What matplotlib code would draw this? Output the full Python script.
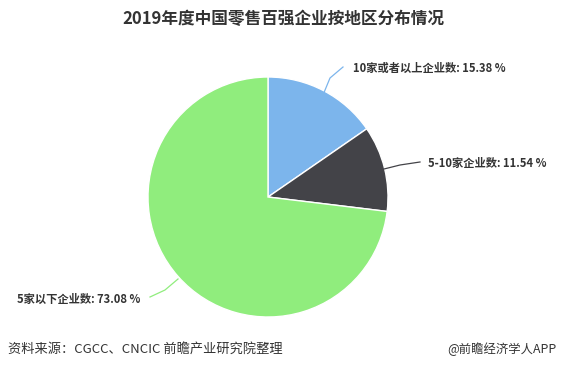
import matplotlib
matplotlib.use("Agg")
import matplotlib.pyplot as plt

plt.rcParams['font.family'] = ['Noto Sans CJK SC', 'DejaVu Sans']

# data
labels = ["10家或者以上企业数", "5-10家企业数", "5家以下企业数"]
values = [15.38, 11.54, 73.08]
colors = ["#7cb5ec", "#434348", "#90ed7d"]

W, H = 565, 369
fig = plt.figure(figsize=(W / 100, H / 100), dpi=100)
ax = fig.add_axes([0, 0, 1, 1])

cx, cy, r = 268, H - 197, 120
ax.pie(values, colors=colors, startangle=90, counterclock=False,
       center=(cx, cy), radius=r, frame=True,
       wedgeprops=dict(edgecolor='white', linewidth=1))
ax.set_xlim(0, W)
ax.set_ylim(0, H)
ax.set_aspect('equal')
ax.axis('off')

# label connectors and texts (pixel coords, y flipped)
conn = [
    [(323, 95), (330, 78), (343, 67)],
    [(384, 169), (400, 165), (420, 162)],
    [(178, 279), (165, 290), (150, 297)],
]
text_pos = [(353, 68, 'left'), (428, 163, 'left'), (140, 299, 'right')]
for i in range(3):
    xs = [p[0] for p in conn[i]]
    ys = [H - p[1] for p in conn[i]]
    ax.plot(xs, ys, color=colors[i], lw=0.9)
    tx, ty, ha = text_pos[i]
    ax.text(tx, H - ty, f"{labels[i]}: {values[i]:.2f} %", ha=ha, va='center',
            fontsize=8.1, fontweight='bold', color='#333333')

fig.text(283 / W, 1 - 19 / H, "2019年度中国零售百强企业按地区分布情况",
         ha='center', va='center', fontsize=12, fontweight='bold', color='#333333')
fig.text(8 / W, 1 - 349 / H, "资料来源：CGCC、CNCIC 前瞻产业研究院整理",
         ha='left', va='center', fontsize=9.5, color='#333333')
fig.text(557 / W, 1 - 349 / H, "@前瞻经济学人APP",
         ha='right', va='center', fontsize=8.9, color='#333333')

fig.savefig("out.png", dpi=100)
